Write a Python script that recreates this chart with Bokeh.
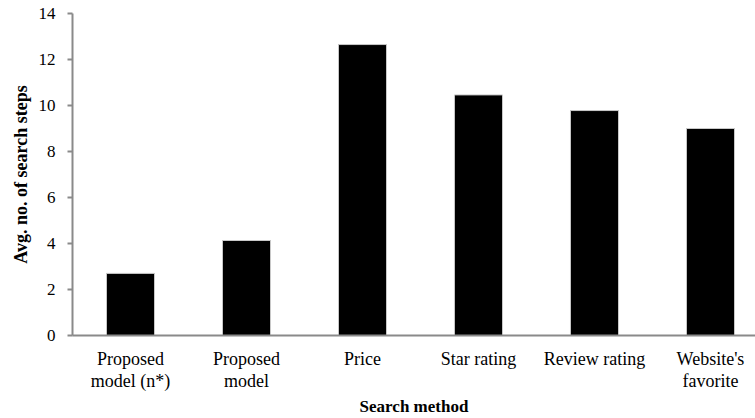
from bokeh.plotting import figure
from bokeh.models import Range1d, FixedTicker, ColumnDataSource
from bokeh.embed import file_html
from bokeh.resources import INLINE

categories = ["Proposed\nmodel (n*)", "Proposed\nmodel", "Price", "Star rating",
              "Review rating", "Website's\nfavorite"]
avg_steps = [2.7, 4.13, 12.65, 10.46, 9.78, 9.0]
y_ticks = [0, 2, 4, 6, 8, 10, 12, 14]
x_title = "Search method"
y_title = "Avg. no. of search steps"

xpos = [i + 0.5 for i in range(len(categories))]
src = ColumnDataSource(dict(x=xpos, top=avg_steps))

p = figure(width=755, height=418, output_backend="svg", toolbar_location=None,
           x_range=Range1d(0, 5.888), y_range=Range1d(0, 14),
           min_border_left=72, min_border_right=0, min_border_top=13,
           min_border_bottom=83)
p.vbar(x="x", top="top", width=0.414, source=src, fill_color="black",
       line_color="#c8c8c8", line_width=1)

p.xgrid.visible = False
p.ygrid.visible = False
p.outline_line_color = None
p.background_fill_color = "white"
p.border_fill_color = "white"

FONT = "Liberation Serif"
axis_col = "#8a8a8a"

xa = p.xaxis[0]
xa.ticker = FixedTicker(ticks=xpos)
xa.major_label_overrides = {x: c for x, c in zip(xpos, categories)}
xa.major_tick_out = 0
xa.major_tick_in = 0
xa.minor_tick_out = 0
xa.minor_tick_in = 0
xa.axis_line_color = axis_col
xa.axis_line_width = 2
xa.major_label_text_font = FONT
xa.major_label_text_font_size = "18px"
xa.major_label_text_line_height = 1.1
xa.major_label_text_color = "black"
xa.major_label_standoff = 13
xa.axis_label = x_title
xa.axis_label_text_font = FONT
xa.axis_label_text_font_size = "17px"
xa.axis_label_text_font_style = "bold"
xa.axis_label_text_color = "black"
xa.axis_label_standoff = 3

ya = p.yaxis[0]
ya.ticker = FixedTicker(ticks=y_ticks)
ya.major_tick_out = 5
ya.major_tick_in = 0
ya.minor_tick_out = 0
ya.minor_tick_in = 0
ya.major_tick_line_color = axis_col
ya.major_tick_line_width = 2
ya.axis_line_color = axis_col
ya.axis_line_width = 2
ya.major_label_text_font = FONT
ya.major_label_text_font_size = "17px"
ya.major_label_text_color = "black"
ya.major_label_standoff = 12
ya.axis_label = y_title
ya.axis_label_text_font = FONT
ya.axis_label_text_font_size = "18px"
ya.axis_label_text_font_style = "bold"
ya.axis_label_text_color = "black"
ya.axis_label_standoff = 5

open("out.html", "w").write(file_html(p, INLINE))
